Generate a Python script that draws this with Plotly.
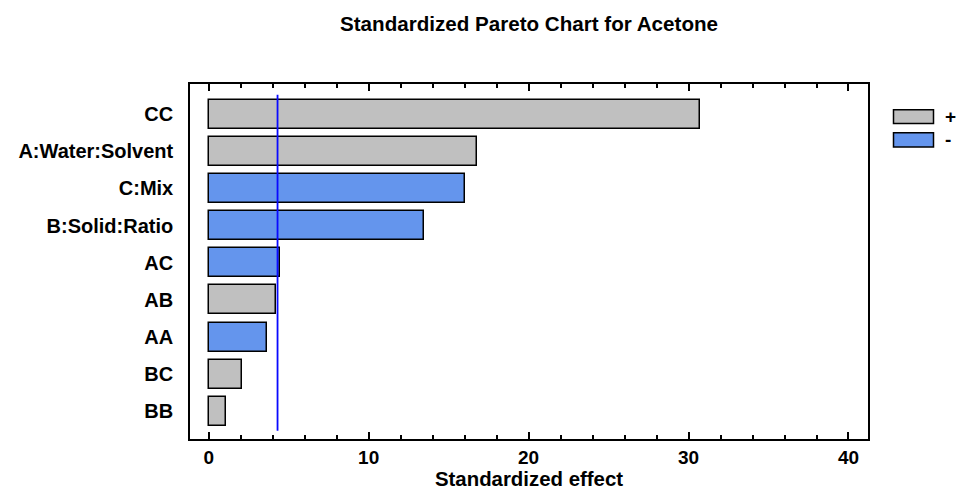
import plotly.graph_objects as go

# Effects ordered from largest to smallest standardized magnitude
effects = ["CC", "A:Water:Solvent", "C:Mix", "B:Solid:Ratio", "AC", "AB", "AA", "BC", "BB"]
std_effect = [30.7, 16.77, 16.0, 13.46, 4.46, 4.23, 3.67, 2.08, 1.10]
sign = ["+", "+", "-", "-", "-", "+", "-", "+", "+"]
critical_value = 4.303

x_ticks = [0, 10, 20, 30, 40]

GRAY = "#C0C0C0"
BLUE = "#6495ED"
FONT = "Arial, 'Liberation Sans', sans-serif"

W, H = 956, 498
L, R, T, B = 190, 88, 84, 54

positions = list(range(len(effects)))
x_range = [-1.17, 41.22]

fig = go.Figure()
for s, color in (("+", GRAY), ("-", BLUE)):
    idx = [i for i, g in enumerate(sign) if g == s]
    fig.add_trace(go.Bar(
        x=[std_effect[i] for i in idx],
        y=[positions[i] for i in idx],
        orientation="h",
        width=0.78,
        marker=dict(color=color, line=dict(color="black", width=1.5)),
        name=s,
        showlegend=False,
        hoverinfo="x+y",
    ))

# significance threshold
fig.add_trace(go.Scatter(
    x=[critical_value, critical_value],
    y=[-0.52, len(effects) - 0.48],
    mode="lines",
    line=dict(color="#0A0AFF", width=1.8),
    showlegend=False,
    hoverinfo="skip",
))

# invisible trace carrying the top tick axis
fig.add_trace(go.Scatter(
    x=[critical_value], y=[0], xaxis="x2", mode="markers",
    marker=dict(opacity=0), showlegend=False, hoverinfo="skip",
))

plot_w = W - L - R
plot_h = H - T - B


def px_x(p):
    return (p - L) / plot_w


def px_y(p):
    return 1 - (p - T) / plot_h


# legend boxes and labels
legend_items = [("+", GRAY, 110, 124), ("-", BLUE, 133.5, 148)]
shapes = []
annotations = []
for label, color, y0, y1 in legend_items:
    shapes.append(dict(
        type="rect", xref="paper", yref="paper",
        x0=px_x(893.5), x1=px_x(933.5), y0=px_y(y1), y1=px_y(y0),
        fillcolor=color, line=dict(color="black", width=1.5), layer="above",
    ))
    annotations.append(dict(
        xref="paper", yref="paper", x=px_x(943), y=px_y((y0 + y1) / 2),
        text=label, showarrow=False, xanchor="left", yanchor="middle",
        font=dict(family=FONT, size=19, color="black", weight="bold"),
    ))

tick_style = dict(
    range=x_range,
    tickvals=x_ticks,
    ticks="inside", ticklen=7, tickwidth=1.5, tickcolor="black",
    minor=dict(dtick=2, ticks="inside", ticklen=4, tickwidth=1.5, tickcolor="black"),
    showgrid=False, zeroline=False,
)

fig.update_layout(
    width=W, height=H,
    margin=dict(l=L, r=R, t=T, b=B, pad=0),
    paper_bgcolor="white",
    plot_bgcolor="white",
    bargap=0,
    barmode="overlay",
    title=dict(
        text="Standardized Pareto Chart for Acetone",
        x=(L + W - R) / 2 / W, xanchor="center",
        y=1 - 24 / H, yanchor="middle", yref="container",
        font=dict(family=FONT, size=20.6, color="black", weight="bold"),
    ),
    xaxis=dict(
        **tick_style,
        showline=True, linecolor="black", linewidth=1.5,
        tickfont=dict(family=FONT, size=19, color="black", weight="bold"),
        title=dict(
            text="Standardized effect", standoff=4,
            font=dict(family=FONT, size=20.4, color="black", weight="bold"),
        ),
    ),
    xaxis2=dict(
        **tick_style,
        overlaying="x", side="top", anchor="y",
        showline=True, linecolor="black", linewidth=1.5,
        showticklabels=False,
    ),
    yaxis=dict(
        range=[len(effects) - 1 + 0.74, -0.81],
        tickvals=positions,
        ticktext=effects,
        ticks="",
        showline=True, linecolor="black", linewidth=1.5, mirror=True,
        showgrid=False, zeroline=False,
        ticklabelstandoff=11,
        tickfont=dict(family=FONT, size=20, color="black", weight="bold"),
    ),
    shapes=shapes,
    annotations=annotations,
    showlegend=False,
)

fig.write_html("out.html")
